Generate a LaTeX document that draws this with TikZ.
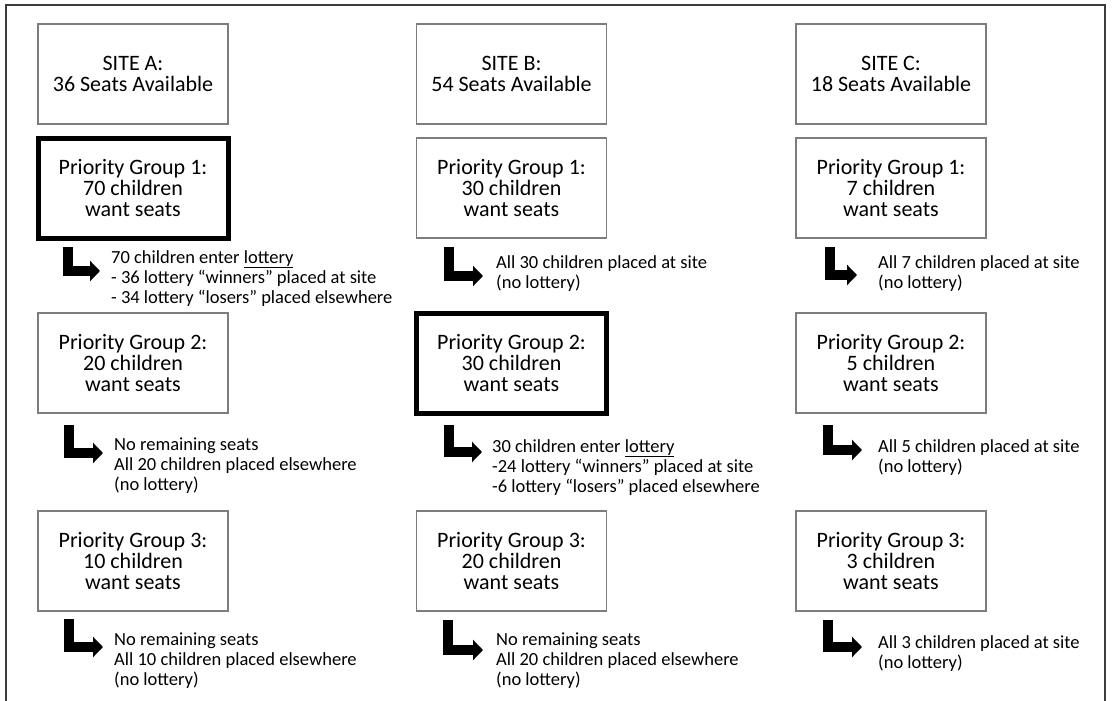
\documentclass[tikz,border=0pt]{standalone}
\usepackage{fontspec}
\setmainfont{Carlito}
\usetikzlibrary{arrows.meta}
\definecolor{boxgray}{RGB}{125,125,125}
\definecolor{framegray}{RGB}{60,60,60}
\tikzset{
  box/.style={draw=boxgray, line width=1.4pt, minimum width=190pt, minimum height=100pt,
    inner sep=0pt, align=center, font=\fontsize{22pt}{21pt}\selectfont},
  thickbox/.style={box, draw=black, line width=5pt},
  bigarrow/.style={line width=10pt, black, line join=miter,
    -{Triangle[length=10pt,width=20pt]}},
  lbl/.style={anchor=north west, inner sep=0pt, align=left,
    font=\fontsize{18.5pt}{20pt}\selectfont},
}
\newcommand{\fl}{\rule{0pt}{16pt}}
\begin{document}
\begin{tikzpicture}[x=1pt,y=-1pt]
\useasboundingbox (0,0) rectangle (1112,701);
\draw[framegray, line width=1.5pt] (6,701) -- (6,5) -- (1105,5) -- (1105,701);

% site boxes
\node[box] (sA) at (133,74) {SITE A:\\36 Seats Available};
\node[box] (sB) at (511.5,74) {SITE B:\\54 Seats Available};
\node[box] (sC) at (891,74) {SITE C:\\18 Seats Available};

% priority group 1
\node[thickbox] (pA1) at (133,188) {Priority Group 1:\\70 children\\want seats};
\node[box] (pB1) at (511.5,188) {Priority Group 1:\\30 children\\want seats};
\node[box] (pC1) at (891,188) {Priority Group 1:\\7 children\\want seats};

% priority group 2
\node[box] (pA2) at (133,363) {Priority Group 2:\\20 children\\want seats};
\node[thickbox] (pB2) at (511.5,363) {Priority Group 2:\\30 children\\want seats};
\node[box] (pC2) at (891,363) {Priority Group 2:\\5 children\\want seats};

% priority group 3
\node[box] (pA3) at (133,561) {Priority Group 3:\\10 children\\want seats};
\node[box] (pB3) at (511.5,561) {Priority Group 3:\\20 children\\want seats};
\node[box] (pC3) at (891,561) {Priority Group 3:\\3 children\\want seats};

% labels
\node[lbl] (tA1) at (111,247) {\fl 70 children enter \underline{lottery}\\- 36 lottery “winners” placed at site\\- 34 lottery “losers” placed elsewhere};
\node[lbl] (tB1) at (496,252) {\fl All 30 children placed at site\\(no lottery)};
\node[lbl] (tC1) at (878,252) {\fl All 7 children placed at site\\(no lottery)};
\node[lbl] (tA2) at (114,434) {\fl No remaining seats\\All 20 children placed elsewhere\\(no lottery)};
\node[lbl] (tB2) at (492,436) {\fl 30 children enter \underline{lottery}\\-24 lottery “winners” placed at site\\-6 lottery “losers” placed elsewhere};
\node[lbl] (tC2) at (878,436) {\fl All 5 children placed at site\\(no lottery)};
\node[lbl] (tA3) at (114,629) {\fl No remaining seats\\All 10 children placed elsewhere\\(no lottery)};
\node[lbl] (tB3) at (496,629) {\fl No remaining seats\\All 20 children placed elsewhere\\(no lottery)};
\node[lbl] (tC3) at (878,632) {\fl All 3 children placed at site\\(no lottery)};

% arrow coordinates
\coordinate (aA1) at (68,247);   \coordinate (eA1) at (100,271);
\coordinate (aB1) at (449,247);  \coordinate (eB1) at (483,276);
\coordinate (aC1) at (830,247);  \coordinate (eC1) at (857,275);
\coordinate (aA2) at (68.5,425); \coordinate (eA2) at (103,453);
\coordinate (aB2) at (449,425);  \coordinate (eB2) at (482,452);
\coordinate (aC2) at (828,425);  \coordinate (eC2) at (862,450);
\coordinate (aA3) at (68.5,619); \coordinate (eA3) at (103,647);
\coordinate (aB3) at (448,620);  \coordinate (eB3) at (483,650);
\coordinate (aC3) at (828,620);  \coordinate (eC3) at (862,647);

\foreach \k in {A1,B1,C1,A2,B2,C2,A3,B3,C3}
  \draw[bigarrow] (a\k) |- (e\k);
\end{tikzpicture}
\end{document}
